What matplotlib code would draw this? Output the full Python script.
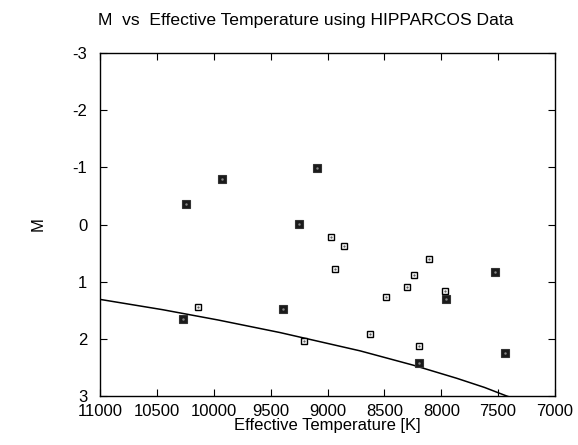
import numpy as np
from matplotlib import pyplot as plt

plt.rcParams['font.family'] = ['Liberation Sans', 'DejaVu Sans']
plt.rcParams['axes.unicode_minus'] = False

# open boxes
teff_open = [8967, 8852, 8934, 8105, 8243, 8301, 8483, 7964, 10136, 9210, 8626, 8193]
mag_open = [0.22, 0.37, 0.77, 0.60, 0.88, 1.09, 1.27, 1.16, 1.45, 2.04, 1.92, 2.12]

# filled boxes
teff_fill = [10247, 9930, 9090, 9253, 7958, 7524, 9394, 8199, 7437, 10270]
mag_fill = [-0.35, -0.80, -0.99, -0.01, 1.30, 0.83, 1.48, 2.42, 2.24, 1.65]

# main sequence curve
teff_curve = [11000, 10450, 9963, 9418, 8714, 8248, 7864, 7620, 7425, 7380]
mag_curve = [1.31, 1.49, 1.67, 1.89, 2.21, 2.46, 2.69, 2.85, 3.00, 3.03]

xticks = [11000, 10500, 10000, 9500, 9000, 8500, 8000, 7500, 7000]
yticks = [-3, -2, -1, 0, 1, 2, 3]

fig = plt.figure(figsize=(5.78, 4.45), dpi=100)
ax = fig.add_axes([100/578, 1-396/445, 455/578, 343/445])

ax.plot(teff_curve, mag_curve, color='black', lw=1.1)
ax.plot(teff_open, mag_open, 's', ms=4.8, mfc='white', mec='black', mew=1.0, ls='none')
ax.plot(teff_open, mag_open, '.', ms=1.2, color='#555555', ls='none')
ax.plot(teff_fill, mag_fill, 's', ms=5.3, mfc='#1a1a1a', mec='#333333', mew=0.8, ls='none')
ax.plot(teff_fill, mag_fill, '.', ms=1.5, color='#888888', ls='none')

ax.set_xlim(11000, 7000)
ax.set_ylim(3, -3)
ax.set_xticks(xticks)
ax.set_yticks(yticks)
ax.tick_params(direction='in', length=5, width=0.8, top=True, right=True,
               labelsize=12, pad=6)
ax.tick_params(axis='y', pad=9)
for s in ax.spines.values():
    s.set_linewidth(1.0)

ax.set_xlabel('Effective Temperature [K]', fontsize=12, labelpad=-1)
fig.text(38/578, 1-224/445, 'M', fontsize=12, ha='center', va='center', rotation=90)
fig.text(306/578, 1-20/445, 'M  vs  Effective Temperature using HIPPARCOS Data',
         fontsize=12.6, ha='center', va='center')

fig.savefig('out.png', dpi=100)
